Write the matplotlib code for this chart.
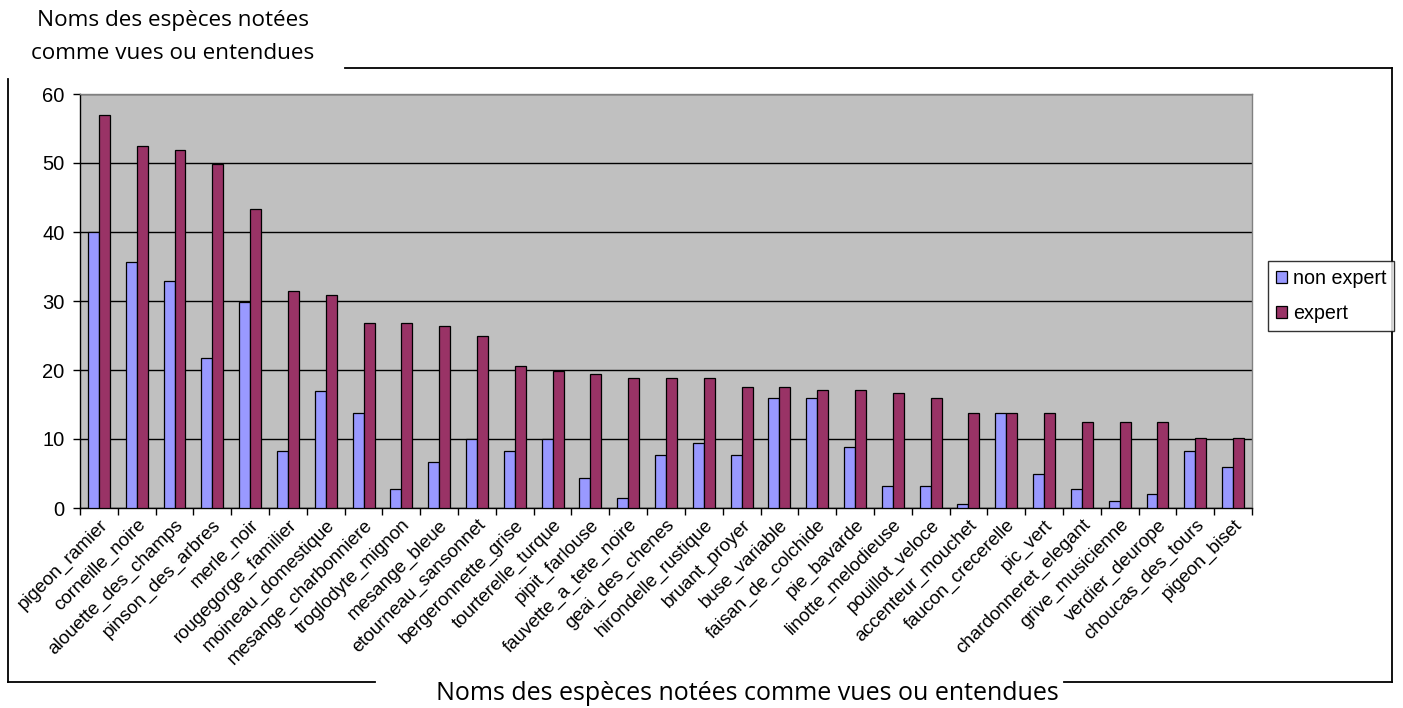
import matplotlib
matplotlib.use("Agg")
import matplotlib.pyplot as plt
from matplotlib.lines import Line2D
from matplotlib.patches import Patch
import matplotlib.transforms as mtransforms
import numpy as np

categories = ["pigeon_ramier", "corneille_noire", "alouette_des_champs", "pinson_des_arbres",
              "merle_noir", "rougegorge_familier", "moineau_domestique", "mesange_charbonniere",
              "troglodyte_mignon", "mesange_bleue", "etourneau_sansonnet", "bergeronnette_grise",
              "tourterelle_turque", "pipit_farlouse", "fauvette_a_tete_noire", "geai_des_chenes",
              "hirondelle_rustique", "bruant_proyer", "buse_variable", "faisan_de_colchide",
              "pie_bavarde", "linotte_melodieuse", "pouillot_veloce", "accenteur_mouchet",
              "faucon_crecerelle", "pic_vert", "chardonneret_elegant", "grive_musicienne",
              "verdier_deurope", "choucas_des_tours", "pigeon_biset"]
non_expert = [40.0, 35.7, 32.9, 21.8, 29.8, 8.3, 17.0, 13.8, 2.7, 6.6, 10.0, 8.3,
              10.0, 4.4, 1.5, 7.7, 9.4, 7.7, 16.0, 16.0, 8.8, 3.2, 3.2, 0.6,
              13.8, 5.0, 2.7, 1.0, 2.0, 8.3, 5.9]
expert = [57.0, 52.5, 51.9, 49.9, 43.3, 31.5, 30.8, 26.8, 26.8, 26.4, 24.9, 20.6,
          19.9, 19.4, 18.9, 18.9, 18.9, 17.6, 17.6, 17.1, 17.1, 16.7, 16.0, 13.7,
          13.7, 13.7, 12.5, 12.5, 12.5, 10.2, 10.2]
series_names = ["non expert", "expert"]
yticks = [0, 10, 20, 30, 40, 50, 60]
title_top = "Noms des espèces notées\ncomme vues ou entendues"
title_bottom = "Noms des espèces notées comme vues ou entendues"

W, H = 1403, 708
fig = plt.figure(figsize=(W / 100, H / 100), dpi=100)
fig.patch.set_facecolor("white")

def fx(px):
    return px / W

def fy(py):
    return 1 - py / H

ax = fig.add_axes([fx(80), fy(508), fx(1252) - fx(80), fy(94) - fy(508)])
ax.set_facecolor("#C0C0C0")

x = np.arange(len(categories))
w = 0.29
c_non = "#9999FF"
c_exp = "#993366"
ax.bar(x - w / 2, non_expert, width=w, color=c_non, edgecolor="black", linewidth=0.9, zorder=3)
ax.bar(x + w / 2, expert, width=w, color=c_exp, edgecolor="black", linewidth=0.9, zorder=3)

ax.set_xlim(-0.5, len(categories) - 0.5)
ax.set_ylim(0, 60)
ax.set_yticks(yticks)
ax.set_yticklabels([str(v) for v in yticks], fontfamily="Liberation Sans", fontsize=14.5)
ax.yaxis.grid(True, color="black", linewidth=1.0, zorder=1)
ax.set_axisbelow(True)

ax.set_xticks(x)
ax.set_xticklabels(categories, rotation=45, ha="right", rotation_mode="anchor",
                   fontfamily="Liberation Sans", fontsize=13.5)
shift = mtransforms.ScaledTranslation(-6 / 100, 0, fig.dpi_scale_trans)
for lab in ax.get_xticklabels():
    lab.set_transform(lab.get_transform() + shift)
ax.set_xticks(np.arange(-0.5, len(categories), 1.0), minor=True)
ax.tick_params(axis="x", which="major", length=0, pad=6)
ax.tick_params(axis="x", which="minor", length=5, width=1, direction="out", color="black")
ax.tick_params(axis="y", which="major", length=5, width=1, direction="out", pad=6, color="black")

for s in ["top", "right"]:
    ax.spines[s].set_color("#808080")
    ax.spines[s].set_linewidth(1.0)
for s in ["left", "bottom"]:
    ax.spines[s].set_color("black")
    ax.spines[s].set_linewidth(1.0)

handles = [Patch(facecolor=c_non, edgecolor="black", linewidth=0.9),
           Patch(facecolor=c_exp, edgecolor="black", linewidth=0.9)]
leg = fig.legend(handles, series_names, loc="upper left",
                 bbox_to_anchor=(fx(1268), fy(261)),
                 bbox_transform=fig.transFigure,
                 prop={"family": "Liberation Sans", "size": 14.2},
                 frameon=True, fancybox=False, edgecolor="black",
                 handlelength=0.55, handleheight=0.55, handletextpad=0.3,
                 borderpad=0.4, labelspacing=0.8, borderaxespad=0)
leg.get_frame().set_linewidth(1.0)

# chart-area border with gaps around the titles
border = [((345, 68), (1392, 68)), ((1392, 68), (1392, 682)),
          ((1064, 682), (1392, 682)), ((8, 682), (375, 682)), ((8, 79), (8, 682))]
for (x0, y0), (x1, y1) in border:
    fig.add_artist(Line2D([fx(x0), fx(x1)], [fy(y0), fy(y1)], transform=fig.transFigure,
                          color="black", linewidth=1.3))

fig.text(fx(173), fy(37), title_top, ha="center", va="center", fontfamily="Open Sans",
         fontsize=16.2, linespacing=1.78)
fig.text(fx(747), fy(694), title_bottom, ha="center", va="center", fontfamily="Open Sans",
         fontsize=18)

fig.savefig("out.png", dpi=100)
